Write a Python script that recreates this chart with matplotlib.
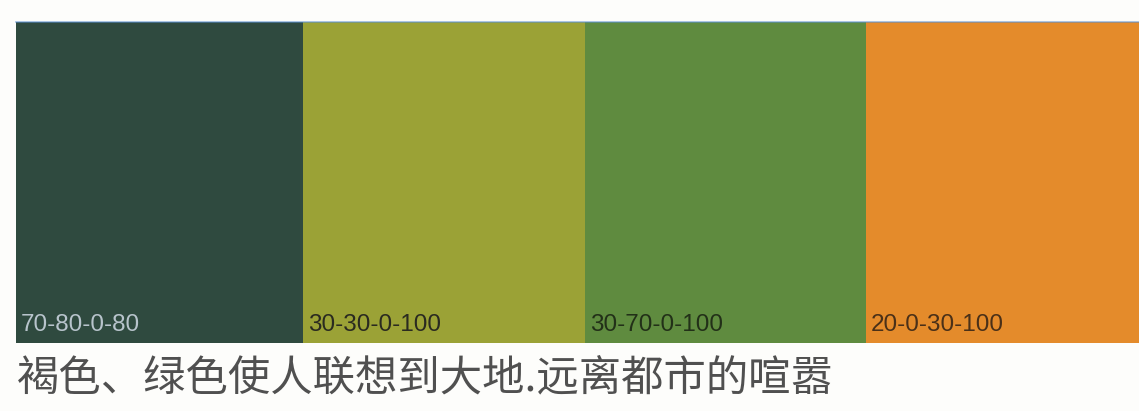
import matplotlib.pyplot as plt

plt.rcParams['font.family'] = ['Noto Sans CJK SC', 'DejaVu Sans']

# swatch data
cmyk_labels = ['70-80-0-80', '30-30-0-100', '30-70-0-100', '20-0-30-100']
swatch_colors = ['#2f4a3f', '#9ba236', '#5f8b3f', '#e48b2b']
label_colors = ['#b8c4cc', '#2a2a20', '#223018', '#4a3018']
caption = '褐色、绿色使人联想到大地.远离都市的喧嚣'

W, H = 1139, 411
fig = plt.figure(figsize=(W / 100, H / 100), dpi=100)
fig.patch.set_facecolor('#fdfdfb')
ax = fig.add_axes([0, 0, 1, 1])
ax.set_xlim(0, W)
ax.set_ylim(H, 0)
ax.axis('off')

left = 16
widths = [287, 282, 281, 273]
top, bottom = 22, 343
x = left
for i in range(len(cmyk_labels)):
    ax.bar(x, bottom - top, width=widths[i], bottom=top, align='edge',
           color=swatch_colors[i], edgecolor='none')
    ax.text(x + 5, bottom - 7, cmyk_labels[i], color=label_colors[i],
            fontsize=17.5, family='Liberation Sans', va='bottom', ha='left')
    x += widths[i]

# thin blue edge along the top
ax.plot([left, W], [top, top], color='#5a8fd0', lw=1.2, alpha=0.6)

ax.text(17, 378, caption, fontsize=30.5, color='#505050', va='center', ha='left')

plt.savefig('out.png', dpi=100)
